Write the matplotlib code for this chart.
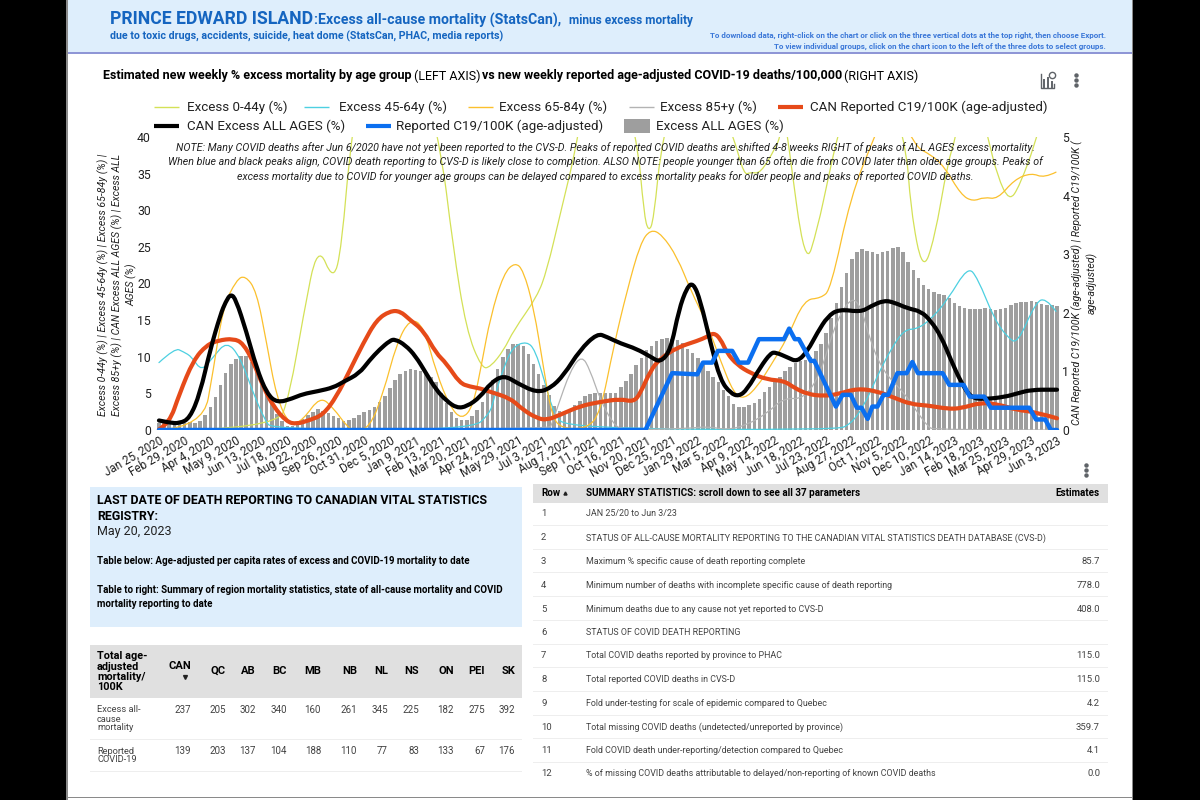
# PEI excess mortality dashboard page
import matplotlib
matplotlib.use('Agg')

import matplotlib.pyplot as plt
from matplotlib.patches import PathPatch, Rectangle
from matplotlib.path import Path

plt.rcParams['font.family'] = ['Roboto', 'DejaVu Sans']

tick_labels = ['Jan 25, 2020', 'Feb 29, 2020', 'Apr 4, 2020', 'May 9, 2020', 'Jun 13, 2020', 'Jul 18, 2020',
               'Aug 22, 2020', 'Sep 26, 2020', 'Oct 31, 2020', 'Dec 5, 2020', 'Jan 9, 2021', 'Feb 13, 2021',
               'Mar 20, 2021', 'Apr 24, 2021', 'May 29, 2021', 'Jul 3, 2021', 'Aug 7, 2021', 'Sep 11, 2021',
               'Oct 16, 2021', 'Nov 20, 2021', 'Dec 25, 2021', 'Jan 29, 2022', 'Mar 5, 2022', 'Apr 9, 2022',
               'May 14, 2022', 'Jun 18, 2022', 'Jul 23, 2022', 'Aug 27, 2022', 'Oct 1, 2022', 'Nov 5, 2022',
               'Dec 10, 2022', 'Jan 14, 2023', 'Feb 18, 2023', 'Mar 25, 2023', 'Apr 29, 2023', 'Jun 3, 2023']
tick_weeks = [0, 5, 10, 15, 20, 25, 30, 35, 40, 45, 50, 55, 60, 65, 70, 75, 80, 85, 90, 95, 100, 105,
              110, 115, 120, 125, 130, 135, 140, 145, 150, 155, 160, 165, 170, 175]

all_ages = [1.0, 1.0, 1.0, 1.0, 1.0, 1.0, 1.1, 1.0, 1.2, 2.0,
            3.1, 4.5, 6.2, 7.8, 9.0, 9.7, 10.1, 10.1, 9.3, 8.2,
            7.0, 5.5, 3.5, 2.2, 1.2, 0.6, 0.5, 0.9, 1.5, 2.0,
            2.5, 2.8, 2.6, 2.3, 1.9, 1.6, 1.2, 1.3, 1.7, 2.1,
            2.4, 2.7, 3.2, 3.8, 4.7, 5.8, 6.8, 7.7, 8.1, 8.3,
            8.2, 8.0, 7.7, 7.2, 6.5, 5.0, 3.7, 2.5, 1.6, 1.3,
            1.3, 1.9, 2.7, 3.8, 5.3, 6.8, 8.3, 10.0, 11.0, 11.7,
            11.8, 11.4, 10.4, 9.0, 7.6, 6.2, 4.8, 3.3, 2.6, 2.4,
            2.7, 3.4, 4.0, 4.6, 4.9, 5.0, 5.0, 5.0, 5.0, 5.1,
            5.9, 6.7, 7.7, 8.9, 9.8, 10.9, 11.5, 12.2, 12.4, 12.5,
            12.4, 12.3, 11.9, 11.1, 10.5, 9.8, 9.1, 8.0, 7.3, 6.5,
            5.5, 4.7, 3.6, 3.2, 3.2, 3.4, 3.7, 4.3, 5.2, 5.9,
            6.9, 7.3, 8.0, 8.6, 9.2, 9.4, 9.6, 9.9, 10.8, 11.8,
            13.2, 15.3, 17.4, 19.5, 21.5, 23.3, 24.3, 24.7, 24.5, 24.3,
            24.0, 24.3, 24.4, 24.9, 25.0, 24.3, 22.9, 21.9, 20.7, 19.8,
            19.3, 18.9, 18.6, 18.4, 18.0, 17.3, 16.9, 16.6, 16.5, 16.5,
            16.5, 16.6, 16.5, 16.4, 16.5, 16.7, 17.0, 17.3, 17.5, 17.5,
            17.6, 17.5, 17.2, 17.1, 17.0, 16.9]

can_all_w = [0, 2, 4, 6, 8, 10, 12, 13, 14, 15, 17, 19, 21, 23, 26, 28, 31, 34, 36, 39, 41, 43, 45, 46, 48, 50, 52,
             54, 56, 58, 60, 62.6, 64.6, 67.2, 69.8, 73.6, 76.3, 78.9, 82, 85.4, 87.3, 90, 93, 95.8, 97.7, 99.7,
             101.3, 102.9, 104.1, 105.5, 107.5, 109.4, 111.4, 113, 114.6, 117.2, 119.2, 120.2, 122.5, 124.4, 126.4,
             128.3, 130.3, 132.5, 136.8, 138.7, 141.3, 143.3, 145.9, 148.5, 150.4, 152.4, 154.3, 156.3, 158.2,
             160.8, 164.7, 167.3, 170, 174.5, 175]
can_all = [1.3, 1.0, 0.9, 1.6, 5.0, 11.0, 15.8, 17.5, 18.6, 17.8, 13.5, 8.5, 5.0, 3.7, 4.3, 4.9, 5.3, 5.8, 6.6, 7.7,
           9.5, 11.0, 12.2, 12.4, 11.6, 10.1, 7.8, 5.5, 4.0, 3.0, 3.2, 4.5, 6.4, 7.5, 6.4, 5.1, 5.7, 7.5, 10.9, 13.2,
           12.7, 11.8, 11.1, 10.0, 9.2, 10.9, 16.4, 19.5, 20.1, 17.7, 11.8, 6.8, 5.0, 4.6, 5.5, 8.6, 10.5, 10.6,
           9.9, 9.3, 10.8, 13.3, 15.5, 16.5, 16.1, 16.9, 17.7, 17.4, 16.6, 16.2, 14.9, 12.8, 9.6, 6.5, 4.4, 4.2,
           4.5, 5.0, 5.5, 5.5, 5.5]

can_rep_w = [0, 2, 4, 6.7, 9.3, 11.6, 14.5, 16.4, 18.4, 20.3, 22.3, 24.9, 26.8, 29.4, 32, 34.6, 37.2, 39.8, 42.4, 45,
             47, 48.9, 51.5, 54, 56, 58.6, 60.6, 62.6, 64.6, 68.5, 71, 73.7, 75.6, 78.2, 82.1, 86, 89.9, 92.5, 93.8,
             95.8, 97.7, 101, 104.9, 106.8, 108.1, 109.4, 110.7, 112.7, 115.3, 118.5, 121.8, 123.8, 126.4, 129.6,
             132.2, 136.1, 140, 143.3, 146.5, 149.8, 153.7, 156.3, 160.2, 163.4, 167.3, 170.6, 175]
can_rep = [0.01, 0.11, 0.62, 1.19, 1.45, 1.53, 1.56, 1.48, 1.16, 0.74, 0.40, 0.14, 0.10, 0.17, 0.26, 0.57, 1.02, 1.48,
           1.88, 2.03, 2.03, 1.88, 1.70, 1.31, 1.14, 0.80, 0.74, 0.71, 0.65, 0.54, 0.34, 0.20, 0.17, 0.26, 0.41, 0.48,
           0.53, 0.48, 0.625, 1.02, 1.22, 1.41, 1.52, 1.59, 1.66, 1.56, 1.31, 1.11, 0.97, 0.86, 0.84, 0.72, 0.61,
           0.58, 0.61, 0.71, 0.66, 0.55, 0.44, 0.42, 0.36, 0.37, 0.47, 0.44, 0.34, 0.31, 0.20]

rep_w = [0, 94.8, 100, 104.9, 106, 107.8, 108.9, 111.7, 113, 114.8, 116.9, 121.8, 122.8, 123.9, 124.7, 127, 127.7,
         131.9, 133.2, 134.8, 136, 136.9, 138.1, 139, 140, 141.2, 142.1, 143.9, 145.7, 146.8, 147.9, 152.7, 154,
         156.8, 158, 160.8, 162.1, 169.6, 170.9, 172.7, 173.8, 175]
rep = [0, 0, 0.97, 0.95, 1.15, 1.15, 1.35, 1.35, 1.15, 1.15, 1.55, 1.55, 1.73, 1.55, 1.55, 1.18, 1.18, 0.4, 0.6, 0.6,
       0.38, 0.38, 0.19, 0.4, 0.4, 0.6, 0.6, 0.97, 0.97, 1.16, 0.97, 0.97, 0.77, 0.77, 0.57, 0.57, 0.38, 0.38, 0.18,
       0.18, 0, 0]

y0_44_w = [0, 23, 25.5, 28.1, 30.9, 34, 35.6, 37.4, 44, 54.7, 57.3, 59.9, 62.9, 64.6, 67.2, 69.1, 73.7, 75.6, 78.2, 81.8,
           86, 93.2, 94.5, 95.4, 96.4, 98, 104, 112, 114, 115.3, 117.2, 120.2, 121, 121.8, 122.5, 125.9, 128.3, 130.6,
           132.2, 138, 145.5, 146.5, 148.8, 151.1, 153.7, 155.3, 158, 161.5, 163.4, 165.7, 167.7, 171.2, 175]
y0_44 = [0, 0, 5.0, 15.5, 25.5, 20.2, 25.0, 40, 70, 40, 25.0, 13.6, 8.4, 8.6, 10.9, 13.6, 18.2, 21.8, 29.5, 40,
         60, 40, 29.5, 27.0, 28.6, 40, 55, 40, 34.8, 35.2, 35.0, 38.6, 40, 43, 40, 22.0, 27.4, 35.0,
         40, 55, 40, 30.0, 21.5, 26.0, 36.5, 40, 50, 40, 34.6, 31.2, 33.3, 40, 50]

y45_64_w = [0, 3.1, 4.7, 6.4, 8.3, 10.6, 13.2, 15.8, 18.4, 20.6, 22, 61, 64.5, 65.2, 67.2, 69, 71.7, 73.3, 75, 76.9, 79.5,
            132, 134.8, 137.4, 140, 142.6, 145.2, 147.8, 150.4, 153.7, 157.6, 159.5, 162.8, 165.4, 167.3, 170.6, 172.7,
            174.8]
y45_64 = [9.2, 11.2, 10.7, 10.0, 8.0, 10.0, 12.1, 10.0, 5.0, 1.4, 0.1, 0, 2.3, 4.1, 8.6, 11.4, 12.1, 10.9, 7.0, 2.3, 0.2,
          0, 0.8, 3.3, 7.4, 11.0, 13.7, 13.8, 15.1, 17.8, 22.3, 20.8, 15.1, 12.6, 11.8, 17.1, 18.2, 16.2]

y65_84_w = [0, 8.6, 10.6, 12.5, 15.1, 16.8, 19, 21, 22.9, 25.5, 28.1, 31.4, 34, 36.6, 37.9, 41, 43.7, 46.3, 48.9, 51.5,
            54.1, 56.7, 59, 61.2, 62.9, 64.6, 67.2, 69.4, 71, 73, 75, 76.6, 78.5, 83.4, 86, 88.6, 91.2, 93.8, 95.8, 98,
            101, 103.6, 106.8, 109.4, 112, 114, 116.6, 119.2, 122.5, 125.7, 129, 130.9, 134.8, 139.4, 143, 147.2, 150.4,
            153, 156.3, 158.6, 160.8, 163.4, 166.7, 170, 172.5, 174.8]
y65_84 = [0, 0.4, 8.2, 16.8, 20.5, 21.1, 19.0, 11.8, 4.5, 0.5, 1.4, 4.6, 3.0, 0.5, 0, 0.2, 5.0, 11.8, 15.2, 14.3,
          7.7, 3.2, 1.4, 3.2, 9.1, 15.5, 21.4, 22.9, 21.8, 16.8, 8.2, 1.8, 0.2, 0.2, 2.3, 11.4, 19.0, 25.5, 27.4, 26.7,
          23.6, 19.1, 14.5, 9.5, 5.0, 4.2, 5.9, 8.8, 12.6, 17.8, 18.0, 19.2, 31.9, 40, 46, 38.7, 37.6,
          36.0, 32.1, 31.2, 31.8, 31.5, 34.2, 35.1, 34.4, 35.2]

y85_w = [0, 76, 76.6, 77.6, 80.2, 82.4, 84, 86, 88.6, 90.6, 103, 107, 110.7, 114.6, 118.5, 121.8, 125.7, 129, 131.6, 134.8,
         136.8, 138.7, 141.3, 145.2, 147.8, 149.8, 151, 175]
y85 = [0, 0, 0.9, 3.0, 8.2, 10.2, 8.2, 4.1, 0.7, 0, 0.2, 0.5, 0, 0.7, 2.3, 4.4, 4.2, 7.8, 14.2, 18.2,
       16.9, 11.9, 7.8, 5.1, 2.4, 0.5, 0, 0]

# tables
region_cols = ['CAN', 'QC', 'AB', 'BC', 'MB', 'NB', 'NL', 'NS', 'ON', 'PEI', 'SK']
excess_row = [237, 205, 302, 340, 160, 261, 345, 225, 182, 275, 392]
reported_row = [139, 203, 137, 104, 188, 110, 77, 83, 133, 67, 176]

summary_labels = ['JAN 25/20 to Jun 3/23',
                  'STATUS OF ALL-CAUSE MORTALITY REPORTING TO THE CANADIAN VITAL STATISTICS DEATH DATABASE (CVS-D)',
                  'Maximum % specific cause of death reporting complete',
                  'Minimum number of deaths with incomplete specific cause of death reporting',
                  'Minimum deaths due to any cause not yet reported to CVS-D',
                  'STATUS OF COVID DEATH REPORTING',
                  'Total COVID deaths reported by province to PHAC',
                  'Total reported COVID deaths in CVS-D',
                  'Fold under-testing for scale of epidemic compared to Quebec',
                  'Total missing COVID deaths (undetected/unreported by province)',
                  'Fold COVID death under-reporting/detection compared to Quebec',
                  '% of missing COVID deaths attributable to delayed/non-reporting of known COVID deaths']
summary_values = ['', '', '85.7', '778.0', '408.0', '', '115.0', '115.0', '4.2', '359.7', '4.1', '0.0']

notes = ['NOTE: Many COVID deaths after Jun 6/2020 have not yet been reported to the CVS-D. Peaks of reported COVID deaths are shifted 4-8 weeks RIGHT of peaks of ALL AGES excess mortality.',
         'When blue and black peaks align, COVID death reporting to CVS-D is likely close to completion. ALSO NOTE: people younger than 65 often die from COVID later than older age groups. Peaks of',
         'excess mortality due to COVID for younger age groups can be delayed compared to excess mortality peaks for older people and peaks of reported COVID deaths.']

C_LIME, C_CYAN, C_YEL, C_GREY = '#d4e157', '#4dd0e1', '#fbc02d', '#b3b3b3'
C_ORANGE, C_BLUE, C_BAR = '#e64a19', '#0b6ff0', '#9e9e9e'
C_HEAD = '#1565c0'
C_TXT = '#212121'
C_BOX = '#deeefc'
C_RULE = '#eeeeee'


def smooth(axes, xs, ys, col, lw):
    # the source chart uses smoothed lines: read points act as quadratic bezier controls
    verts = [(xs[0], ys[0])]
    codes = [Path.MOVETO]
    for i in range(1, len(xs) - 1):
        end = (xs[i + 1], ys[i + 1]) if i == len(xs) - 2 else ((xs[i] + xs[i + 1]) / 2, (ys[i] + ys[i + 1]) / 2)
        verts += [(xs[i], ys[i]), end]
        codes += [Path.CURVE3, Path.CURVE3]
    axes.add_patch(PathPatch(Path(verts, codes), fill=False, edgecolor=col, lw=lw, capstyle='round', joinstyle='round'))


fig = plt.figure(figsize=(12, 8), dpi=100, facecolor='white')

# chart, bars and thin lines on left scale
ax = fig.add_axes([156.4 / 1200, 370 / 800, 903.2 / 1200, 293 / 800])
ax.patch.set_visible(False)
ax.bar(range(len(all_ages)), all_ages, width=0.68, color=C_BAR, zorder=1)
for xs, ys, col in [(y0_44_w, y0_44, C_LIME), (y45_64_w, y45_64, C_CYAN),
                    (y65_84_w, y65_84, C_YEL), (y85_w, y85, C_GREY)]:
    smooth(ax, xs, ys, col, 0.9)
ax.set_xlim(-0.5, 175.5)
ax.set_ylim(0, 40)
ax.set_yticks([0, 5, 10, 15, 20, 25, 30, 35, 40])
ax.set_xticks(tick_weeks)
ax.set_xticklabels(tick_labels, rotation=30, ha='right', rotation_mode='anchor', fontsize=8.4, color=C_TXT)
ax.tick_params(axis='both', length=0)
ax.tick_params(axis='x', pad=3)
ax.tick_params(axis='y', labelsize=8.8, labelcolor=C_TXT, pad=4)
for s in ax.spines.values():
    s.set_visible(False)


def stacked(ylim):
    a = ax.twinx()
    a.set_ylim(*ylim)
    a.patch.set_visible(False)
    for s in a.spines.values():
        s.set_visible(False)
    a.set_yticks([])
    return a


# orange under black under blue, so each gets its own layer
ax_right = stacked((0, 5))
ax_right.set_yticks([0, 1, 2, 3, 4, 5])
ax_right.tick_params(axis='y', length=0, labelsize=8.8, labelcolor=C_TXT, pad=2)
smooth(ax_right, can_rep_w, can_rep, C_ORANGE, 3.0)
ax_black = stacked((0, 40))
smooth(ax_black, can_all_w, can_all, 'black', 3.0)
ax_blue = stacked((0, 5))
ax_blue.plot(rep_w, rep, color=C_BLUE, lw=3.2, solid_joinstyle='round', solid_capstyle='round')

# page furniture in pixel coordinates
ov = fig.add_axes([0, 0, 1, 1], zorder=10)
ov.set_xlim(0, 1200)
ov.set_ylim(800, 0)
ov.axis('off')


def box(x0, y0, x1, y1, col):
    ov.add_patch(Rectangle((x0, y0), x1 - x0, y1 - y0, facecolor=col, edgecolor='none', zorder=1))


def txt(x, y, s, size=8, color=C_TXT, weight='normal', ha='left', style='normal', **kw):
    ov.text(x, y, s, fontsize=size, color=color, fontweight=weight, ha=ha, va='center', fontstyle=style, zorder=3, **kw)


box(0, 0, 66, 800, 'black')
box(1133, 0, 1200, 800, 'black')
box(66, 0, 67.5, 800, '#8a8a8a')
box(1131.5, 0, 1133, 800, '#8a8a8a')
box(67, 796.5, 1133, 798, '#8a8a8a')
box(67.5, 0, 1131.5, 52, C_BOX)
box(67.5, 52, 1131.5, 53.5, '#8f96d6')

# header
txt(110, 19, 'PRINCE EDWARD ISLAND', 12.7, C_HEAD, 'bold')
txt(313, 20, ':', 10.2, C_HEAD, 'bold')
txt(318, 20, 'Excess all-cause mortality (StatsCan),', 10.2, C_HEAD, 'bold')
txt(569, 20.5, 'minus excess mortality', 8.6, C_HEAD, 'bold')
txt(110, 36, 'due to toxic drugs, accidents, suicide, heat dome (StatsCan, PHAC, media reports)', 7.7, C_HEAD, 'bold')
txt(1106, 35, 'To download data, right-click on the chart or click on the three vertical dots at the top right, then choose Export.',
    5.75, '#3c78d8', 'bold', ha='right')
txt(1106, 46, 'To view individual groups, click on the chart icon to the left of the three dots to select groups.',
    5.75, '#3c78d8', 'bold', ha='right')

# chart title
txt(103, 76, 'Estimated new weekly % excess mortality by age group', 9.0, 'black', 'bold')
txt(414, 76, '(LEFT AXIS)', 9.0, 'black')
txt(482, 76, 'vs new weekly reported age-adjusted COVID-19 deaths/100,000', 9.0, 'black', 'bold')
txt(844, 76, '(RIGHT AXIS)', 9.0, 'black')

# legend
leg_row1 = [(154, 187, 'Excess 0-44y (%)', C_LIME, 1), (303.5, 339, 'Excess 45-64y (%)', C_CYAN, 1),
            (468, 499, 'Excess 65-84y (%)', C_YEL, 1), (629, 660, 'Excess 85+y (%)', C_GREY, 1),
            (778, 809.5, 'CAN Reported C19/100K (age-adjusted)', C_ORANGE, 3)]
leg_row2 = [(154, 187, 'CAN Excess ALL AGES (%)', 'black', 3), (366, 396, 'Reported C19/100K (age-adjusted)', C_BLUE, 3)]
for y, row in [(107, leg_row1), (126, leg_row2)]:
    for xs, xt, label, col, lw in row:
        ov.plot([xs, xs + 25], [y, y], color=col, lw=lw, solid_capstyle='butt', zorder=3)
        txt(xt, y, label, 9.65)
box(624, 119, 650, 132.5, C_BAR)
txt(656, 126, 'Excess ALL AGES (%)', 9.65)

# axis titles and note
ov.text(117.5, 285, 'Excess 0-44y (%) | Excess 45-64y (%) | Excess 65-84y (%) |\nExcess 85+y (%) | CAN Excess ALL AGES (%) | Excess ALL\nAGES (%)',
        rotation=90, fontsize=7.6, fontstyle='italic', color=C_TXT, ha='center', va='center', multialignment='center',
        linespacing=1.3, zorder=3)
ov.text(1085, 283, 'CAN Reported C19/100K (age-adjusted) | Reported C19/100K (\nage-adjusted)',
        rotation=90, fontsize=7.6, fontstyle='italic', color=C_TXT, ha='center', va='center', multialignment='center',
        linespacing=1.35, zorder=3)
for y, line in zip([147.5, 162, 176.5], notes):
    txt(605, y, line, 7.7, C_TXT, style='italic', ha='center')

# menu icons
ov.plot([1076, 1076, 1076], [75, 80, 85], ls='none', marker='o', ms=2.2, color='#5f6368', zorder=3)
ov.plot([1086, 1086, 1086], [465, 470, 475], ls='none', marker='o', ms=2.2, color='#5f6368', zorder=3)
ov.plot([1041, 1041, 1054, 1054], [74, 88, 88, 84], color='#5f6368', lw=1.0, zorder=3)
ov.plot([1044, 1044], [87, 80], color='#5f6368', lw=1.4, zorder=3)
ov.plot([1048, 1048], [87, 78], color='#5f6368', lw=1.4, zorder=3)
ov.plot([1052, 1052], [87, 82], color='#5f6368', lw=1.4, zorder=3)
ov.plot([1052], [75], marker='o', ms=4.5, mfc='white', mec='#5f6368', mew=1.0, zorder=3)

# blue info box
box(90, 487, 522, 627, C_BOX)
txt(97, 501, 'LAST DATE OF DEATH REPORTING TO CANADIAN VITAL STATISTICS', 8.9, 'black', 'bold')
txt(97, 516, 'REGISTRY:', 8.9, 'black', 'bold')
txt(97, 531, 'May 20, 2023', 9.0, C_TXT)
txt(97, 561, 'Table below: Age-adjusted per capita rates of excess and COVID-19 mortality to date', 7.0, 'black', 'bold')
txt(97, 590, 'Table to right: Summary of region mortality statistics, state of all-cause mortality and COVID', 7.0, 'black', 'bold')
txt(97, 604, 'mortality reporting to date', 7.0, 'black', 'bold')

# region table
box(90, 645, 522, 697.5, '#e0e0e0')
for y, s in zip([656, 666.5, 677, 687.5], ['Total age-', 'adjusted', 'mortality/', '100K']):
    txt(97, y, s, 7.8, 'black', 'bold')
col_right = [191, 226, 256, 287, 321, 357, 388, 419, 454, 485, 515]
for xr, name, a, b in zip(col_right, region_cols, excess_row, reported_row):
    txt(xr, 666 if name == 'CAN' else 671, name, 8.0, 'black', 'bold', ha='right')
    txt(xr, 710, str(a), 7.0, '#424242', ha='right')
    txt(xr, 751, str(b), 7.0, '#424242', ha='right')
ov.plot([185], [676.5], marker='v', ms=2.8, color='#212121', zorder=3)
for y, s in zip([710, 719, 728], ['Excess all-', 'cause', 'mortality']):
    txt(97, y, s, 6.7, '#424242')
for y, s in zip([751, 760], ['Reported', 'COVID-19']):
    txt(97, y, s, 6.7, '#424242')
box(90, 738.5, 522, 740, C_RULE)
box(90, 770.5, 522, 771.5, C_RULE)

# summary table
box(533, 484, 1108, 503, '#e0e0e0')
txt(541, 493, 'Row', 7.1, 'black', 'bold')
ov.plot([565], [493], marker='^', ms=2.2, color='#212121', zorder=3)
txt(586, 493, 'SUMMARY STATISTICS: scroll down to see all 37 parameters', 7.1, 'black', 'bold')
txt(1100, 493, 'Estimates', 7.1, 'black', 'bold', ha='right')
row_y = [514, 538, 561, 585, 609, 632.5, 656, 680, 703.5, 727, 750.5, 774]
for i, (y, lab, val) in enumerate(zip(row_y, summary_labels, summary_values)):
    txt(541, y, str(i + 1), 6.8, '#424242')
    txt(586, y, lab, 6.38, '#424242')
    txt(1100, y, val, 6.8, '#424242', ha='right')
    if i < len(row_y) - 1:
        box(533, y + 11.3, 1108, y + 12.3, C_RULE)

fig.savefig('out.png', dpi=100, facecolor='white')
